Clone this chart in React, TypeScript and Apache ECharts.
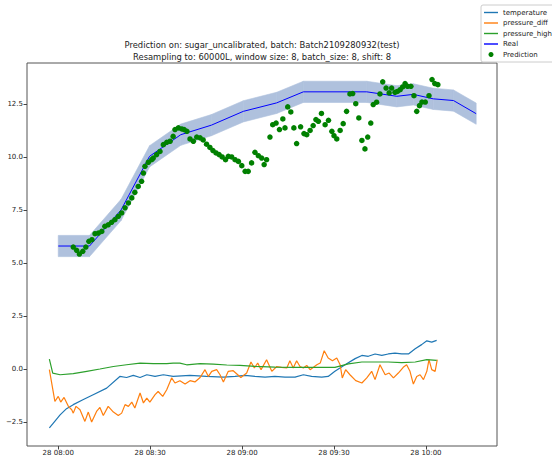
import React, { useEffect, useRef } from 'react';
import * as echarts from 'echarts';

// x values are minutes after 28 08:00
const xTickMinutes = [0, 30, 60, 90, 120];
const yTickValues = [-2.5, 0, 2.5, 5, 7.5, 10, 12.5];
const titleLines = [
  'Prediction on: sugar_uncalibrated, batch: Batch2109280932(test)',
  'Resampling to: 60000L, window size: 8, batch_size: 8, shift: 8',
];
const legendNames = ['temperature', 'pressure_diff', 'pressure_high', 'Real', 'Prediction'];

const realMinutes = [0, 10.2, 20.5, 29.8, 40, 50, 60.4, 71.3, 80, 100.7, 110.5, 115.9, 122.4, 129, 136.4];
const realValues = [5.8, 5.8, 7.5, 10.03, 11.05, 11.5, 12.15, 12.55, 13.07, 13.07, 12.86, 12.95, 12.74, 12.66, 12.04];
const bandHalfWidth = 0.5;

const prediction: [number, number][] = [
  [4.9, 5.75], [6.0, 5.6], [6.9, 5.42], [8.0, 5.55], [9.0, 5.75], [10.0, 6.02], [11.0, 6.1], [12.0, 6.38],
  [13.1, 6.41], [14.2, 6.49], [15.2, 6.73], [16.3, 6.8], [17.4, 6.92], [18.5, 7.04], [19.6, 7.2], [20.7, 7.36],
  [21.8, 7.6], [22.9, 7.83], [24.0, 8.07], [25.0, 8.33], [26.1, 8.61], [27.2, 8.85], [27.8, 9.24], [28.3, 9.56],
  [29.4, 9.75], [30.5, 9.87], [31.0, 9.95], [32.1, 10.11], [33.2, 10.26], [34.3, 10.58], [35.4, 10.69], [36.5, 10.74],
  [37.5, 10.97], [38.1, 11.29], [39.2, 11.37], [40.3, 11.32], [41.1, 11.29], [42.0, 11.21], [43.0, 10.85], [44.1, 10.74],
  [45.2, 10.94], [46.3, 10.9], [47.3, 10.8], [48.4, 10.6], [49.5, 10.45], [50.5, 10.3], [51.5, 10.19], [52.5, 10.11],
  [53.5, 10.0], [54.6, 9.87], [55.5, 10.03], [56.6, 10.0], [57.7, 9.87], [58.8, 9.79], [59.9, 9.59], [61.0, 9.32],
  [62.0, 9.32], [63.1, 9.72], [64.2, 10.22], [65.3, 10.06], [66.4, 9.95], [67.2, 9.64], [68.0, 9.87], [69.1, 10.94],
  [70.0, 11.52], [71.1, 11.6], [72.2, 11.29], [73.3, 11.79], [74.0, 11.37], [74.9, 12.36], [75.9, 12.12], [76.9, 11.37],
  [77.8, 10.63], [79.1, 11.42], [80.2, 11.1], [81.1, 11.05], [82.2, 11.25], [83.2, 11.48], [84.1, 11.76], [84.9, 11.68],
  [85.9, 12.05], [87.1, 11.52], [88.2, 11.73], [89.3, 11.21], [90.0, 11.0], [90.9, 10.85], [92.0, 11.25], [93.0, 11.57],
  [94.1, 12.15], [95.2, 12.97], [96.1, 12.99], [97.1, 12.51], [98.1, 11.84], [99.1, 10.78], [100.1, 10.38], [101.0, 10.94],
  [102.0, 11.6], [102.8, 12.47], [103.9, 12.58], [105.0, 12.97], [105.9, 13.54], [107.0, 13.25], [108.0, 13.02], [108.8, 13.25],
  [109.9, 13.05], [110.7, 13.09], [111.6, 13.17], [112.4, 13.3], [113.2, 13.46], [114.0, 13.33], [115.1, 13.33], [116.1, 12.89],
  [117.0, 12.15], [117.9, 12.42], [118.7, 12.59], [119.8, 12.59], [121.0, 12.89], [122.0, 13.65], [122.9, 13.46], [123.9, 13.41],
];

const temperature: [number, number][] = [
  [-2.9, -2.78], [-1.6, -2.55], [0.6, -2.16], [2.7, -1.87], [4.9, -1.68], [8.2, -1.44], [11.4, -1.21], [15.8, -0.9],
  [20.1, -0.35], [22.3, -0.4], [24.5, -0.3], [26.7, -0.4], [28.9, -0.27], [31.6, -0.35], [34.3, -0.27], [37.5, -0.35],
  [43.0, -0.3], [48.4, -0.35], [53.9, -0.38], [57.7, -0.35], [61.0, -0.3], [64.2, -0.35], [67.5, -0.38], [70.7, -0.35],
  [74.0, -0.38], [77.3, -0.38], [80.0, -0.27], [82.7, -0.35], [86.0, -0.38], [88.1, -0.35], [90.3, -0.11], [93.6, 0.2],
  [96.9, 0.49], [99.1, 0.64], [101.2, 0.6], [103.4, 0.71], [105.6, 0.64], [107.7, 0.71], [109.9, 0.75], [112.1, 0.71],
  [114.3, 0.71], [116.5, 0.96], [118.6, 1.15], [120.3, 1.33], [121.9, 1.27], [123.5, 1.35],
];

const pressureHigh: [number, number][] = [
  [-2.9, 0.47], [-1.8, -0.19], [0.6, -0.27], [4.9, -0.22], [9.3, -0.11], [13.6, 0], [18.0, 0.12], [22.3, 0.2],
  [26.7, 0.28], [31.0, 0.25], [35.4, 0.25], [37.5, 0.28], [39.7, 0.28], [41.9, 0.2], [46.3, 0.25], [50.6, 0.23],
  [55.0, 0.19], [59.3, 0.17], [64.2, 0.12], [70.7, 0.09], [77.3, 0.08], [83.8, 0.08], [90.3, 0.08], [94.7, 0.24],
  [99.1, 0.33], [103.4, 0.33], [107.7, 0.33], [112.1, 0.3], [116.5, 0.33], [120.3, 0.44], [123.5, 0.41],
];

const pressureDiff: [number, number][] = [
  [-2.9, -0.03], [-1.1, -1.53], [0, -1.29], [0.8, -1.56], [1.9, -1.34], [3.3, -1.76], [4.4, -1.92], [4.9, -2.08],
  [5.8, -1.76], [7.1, -1.92], [8.7, -2.47], [9.8, -2.03], [10.9, -2.5], [12.5, -2.0], [13.6, -1.81], [14.7, -2.19],
  [16.3, -1.76], [18.0, -2.03], [19.6, -2.19], [20.7, -2.08], [21.8, -1.68], [22.9, -1.76], [24.0, -1.56], [25.0, -1.84],
  [26.7, -1.13], [27.8, -1.6], [28.9, -1.37], [29.9, -1.56], [31.6, -1.21], [32.6, -1.06], [34.1, -1.29], [35.4, -0.98],
  [37.0, -0.42], [38.1, -0.66], [39.7, -0.55], [41.4, -0.71], [43.0, -0.55], [44.6, -0.61], [46.3, -0.4], [47.9, -0.03],
  [49.0, -0.35], [50.1, -0.11], [51.7, -0.03], [52.8, -0.27], [53.9, -0.61], [55.5, -0.11], [57.1, -0.08], [59.6, -0.4],
  [61.5, -0.19], [62.9, 0.33], [64.0, 0.05], [65.1, 0.28], [66.2, -0.03], [68.0, 0.44], [69.7, -0.11], [71.3, 0.12],
  [72.9, 0.08], [74.6, 0.05], [75.6, 0.39], [76.7, 0.05], [77.8, 0.39], [78.9, 0.12], [80.0, 0.05], [81.1, 0.17],
  [82.2, -0.03], [83.3, 0.08], [84.4, 0.2], [85.5, 0.28], [86.8, 0.86], [88.1, 0.52], [89.5, 0.39], [90.9, 0.52],
  [92.0, 0.2], [92.7, -0.42], [93.8, -0.03], [95.2, -0.27], [97.1, -0.55], [99.1, -0.66], [100.7, -0.42], [102.3, -0.11],
  [103.4, -0.5], [105.0, 0.2], [106.7, -0.27], [108.0, -0.19], [109.4, -0.42], [111.0, -0.19], [112.6, 0.08], [113.7, 0.2],
  [114.8, -0.11], [115.9, -0.71], [117.0, -0.35], [118.1, -0.27], [119.2, -0.5], [120.3, -0.11], [121.0, 0.44], [121.9, -0.03],
  [123.0, -0.11], [123.7, 0.44],
];

const FONT = 'DejaVu Sans';
const LINE_ICON = 'path://M0,0H14V1.4H0Z';

function fmtTime(m: number): string {
  const h = 8 + Math.floor(m / 60);
  const mm = Math.round(m - Math.floor(m / 60) * 60);
  return `28 ${String(h).padStart(2, '0')}:${String(mm).padStart(2, '0')}`;
}

export default function App() {
  const ref = useRef<HTMLDivElement>(null);
  useEffect(() => {
    if (!ref.current) return;
    const chart = echarts.init(ref.current, undefined, { renderer: 'svg' });
    const bandSegments = realMinutes.slice(0, -1).map((m, i) => [m, realValues[i], realMinutes[i + 1], realValues[i + 1]]);
    const real = realMinutes.map((m, i) => [m, realValues[i]]);
    chart.setOption({
      animation: false,
      backgroundColor: '#ffffff',
      grid: {
        left: 27, top: 63, right: 55, bottom: 12,
        show: true, borderColor: '#555', borderWidth: 1, backgroundColor: 'transparent',
      },
      graphic: titleLines.map((t, i) => ({
        type: 'text', x: 262, y: 45 + i * 11.5, z: 10,
        style: { text: t, textAlign: 'center', textVerticalAlign: 'middle', fontSize: 8.4, fontFamily: FONT, fill: '#222' },
      })),
      legend: {
        data: legendNames.map((n) => (n === 'Prediction' ? { name: n, icon: 'circle' } : { name: n, icon: LINE_ICON })),
        orient: 'vertical', left: 481, top: 5,
        itemWidth: 14, itemHeight: 5, itemGap: 3.5,
        textStyle: { fontSize: 7, fontFamily: FONT, color: '#222' },
        backgroundColor: '#fff', borderColor: '#ccc', borderWidth: 1, borderRadius: 2,
        padding: [4, 40, 4, 3],
      },
      xAxis: {
        type: 'value', min: -10.2, max: 143.2,
        splitLine: { show: false },
        axisLine: { show: false, onZero: false },
        axisTick: { show: true, length: 3.5, customValues: xTickMinutes, lineStyle: { color: '#444' } },
        axisLabel: { customValues: xTickMinutes, formatter: (v: number) => fmtTime(v), fontSize: 7, fontFamily: FONT, color: '#222', margin: 3 },
      },
      yAxis: {
        type: 'value', min: -3.63, max: 14.43,
        splitLine: { show: false },
        axisLine: { show: false, onZero: false },
        axisTick: { show: true, length: 3.5, customValues: yTickValues, lineStyle: { color: '#444' } },
        axisLabel: { customValues: yTickValues, formatter: (v: number) => (v < 0 ? '\u2212' + Math.abs(v).toFixed(1) : v.toFixed(1)), fontSize: 7, fontFamily: FONT, color: '#222', margin: 4 },
      },
      series: [
        { name: 'temperature', type: 'line', data: temperature, symbol: 'none', lineStyle: { color: '#1f77b4', width: 1.2 }, itemStyle: { color: '#1f77b4' }, z: 2 },
        { name: 'pressure_diff', type: 'line', data: pressureDiff, symbol: 'none', lineStyle: { color: '#ff7f0e', width: 1.2 }, itemStyle: { color: '#ff7f0e' }, z: 2 },
        { name: 'pressure_high', type: 'line', data: pressureHigh, symbol: 'none', lineStyle: { color: '#2ca02c', width: 1.2 }, itemStyle: { color: '#2ca02c' }, z: 2 },
        {
          name: 'band', type: 'custom', data: bandSegments, silent: true, z: 1,
          encode: { x: [0, 2], y: [1, 3] },
          renderItem: (params: any, api: any) => {
            const m0 = api.value(0), v0 = api.value(1), m1 = api.value(2), v1 = api.value(3);
            const pts = [
              api.coord([m0, v0 + bandHalfWidth]),
              api.coord([m1, v1 + bandHalfWidth]),
              api.coord([m1, v1 - bandHalfWidth]),
              api.coord([m0, v0 - bandHalfWidth]),
            ];
            return { type: 'polygon', shape: { points: pts }, style: { fill: '#afc1dd', stroke: '#afc1dd', lineWidth: 0.6 } };
          },
        },
        { name: 'Real', type: 'line', data: real, symbol: 'none', lineStyle: { color: '#0000ff', width: 1 }, itemStyle: { color: '#0000ff' }, z: 3 },
        { name: 'Prediction', type: 'scatter', data: prediction, symbolSize: 5.5, itemStyle: { color: '#008000', opacity: 1 }, z: 4 },
      ],
    });
    return () => chart.dispose();
  }, []);
  return <div ref={ref} style={{ position: 'absolute', left: 0, top: 0, width: 552, height: 458 }} />;
}
